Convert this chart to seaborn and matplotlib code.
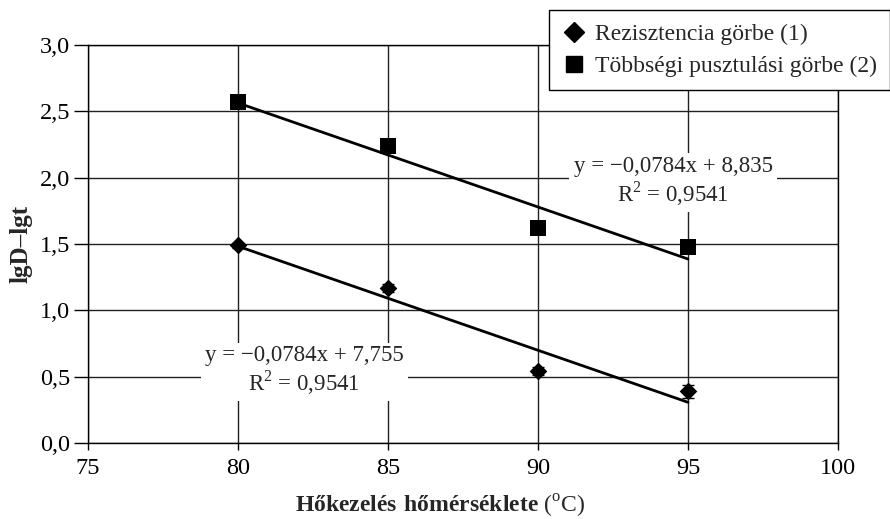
import numpy as np
import pandas as pd
import matplotlib
matplotlib.use("Agg")
import matplotlib.pyplot as plt
import seaborn as sns
from matplotlib.ticker import FuncFormatter

# Data
temps = [80, 85, 90, 95]
rez_vals = [1.49, 1.17, 0.54, 0.39]
rez_err = [0.02, 0.03, 0.03, 0.05]
tob_vals = [2.57, 2.24, 1.62, 1.48]
tob_err = [0.02, 0.03, 0.02, 0.05]
series_names = ["Rezisztencia görbe (1)", "Többségi pusztulási görbe (2)"]
slopes = [-0.0784, -0.0784]
intercepts = [7.755, 8.835]
r2 = [0.9541, 0.9541]

sns.set_style("white")
plt.rcParams["font.family"] = ["Liberation Serif", "DejaVu Serif"]
plt.rcParams["mathtext.fontset"] = "custom"
plt.rcParams["mathtext.rm"] = "Liberation Serif"
plt.rcParams["mathtext.bf"] = "Liberation Serif:bold"

df = pd.DataFrame({
    "temp": temps * 2,
    "val": rez_vals + tob_vals,
    "err": rez_err + tob_err,
    "series": [series_names[0]] * 4 + [series_names[1]] * 4,
})

fig = plt.figure(figsize=(8.9, 5.19), dpi=100)
ax = fig.add_axes([0.0989, 0.1464, 0.8427, 0.7669])

# trend lines from the stated equations
for s, b in zip(slopes, intercepts):
    xl = np.array([80, 95])
    sns.lineplot(x=xl, y=s * xl + b, ax=ax, color="black", lw=2, zorder=3)

markers = {series_names[0]: "D", series_names[1]: "s"}
sizes = {series_names[0]: 9, series_names[1]: 12}
for name, g in df.groupby("series", sort=False):
    ax.errorbar(g["temp"], g["val"], yerr=g["err"], fmt="none", ecolor="black",
                capsize=4, lw=1.2, zorder=4)
    sns.scatterplot(data=g, x="temp", y="val", ax=ax, marker=markers[name],
                    s=sizes[name] ** 2, color="black", edgecolor="black",
                    linewidth=0, zorder=5, label=name, legend=False)

ax.set_xlim(75, 100)
ax.set_ylim(0, 3)
ax.set_xticks([75, 80, 85, 90, 95, 100])
ax.set_yticks(np.arange(0, 3.01, 0.5))
ax.yaxis.set_major_formatter(FuncFormatter(lambda v, p: f"{v:.1f}".replace(".", ",")))
ax.grid(True, color="#222222", lw=1)
for sp in ax.spines.values():
    sp.set_color("black")
    sp.set_linewidth(1)
ax.tick_params(axis="both", labelsize=17.5, colors="black", direction="out")
ax.tick_params(axis="y", length=10, width=1, left=True, pad=3)
ax.tick_params(axis="x", length=5, width=1, bottom=True, pad=6)

ax.set_ylabel("lgD–lgt", fontsize=18, fontweight="bold")
ax.yaxis.set_label_coords(-0.074, 0.5)
ax.set_xlabel(r"$\mathbf{Hőkezelés\ hőmérséklete}$ ($^{\rm o}$C)", fontsize=17)
ax.xaxis.set_label_coords(0.47, -0.125)

# equation labels
eq_pos = [(82.2, 0.54), (94.5, 1.97)]
for (x, y), s, b, r in zip(eq_pos, slopes, intercepts, r2):
    txt = f"y = −{abs(s):.4f}x + {b:.3f}".replace(".", ",") + "\n" + \
          f"R$^2$ = {r:.4f}".replace(".", ",")
    ax.text(x, y, txt, ha="center", va="center", fontsize=16.5, linespacing=1.1,
            bbox=dict(facecolor="white", edgecolor="none", pad=3), zorder=6)

handles = [
    plt.Line2D([], [], marker="D", color="black", ls="none", markersize=10),
    plt.Line2D([], [], marker="s", color="black", ls="none", markersize=12),
]
leg = fig.legend(handles, series_names, loc="upper right", bbox_to_anchor=(1.0, 0.98),
                 fontsize=17, frameon=True, fancybox=False, edgecolor="black",
                 framealpha=1, borderpad=0.55, handlelength=1.0, handletextpad=0.4,
                 labelspacing=0.45, borderaxespad=0)
leg.get_frame().set_linewidth(1)

fig.savefig("out.png", dpi=100)
